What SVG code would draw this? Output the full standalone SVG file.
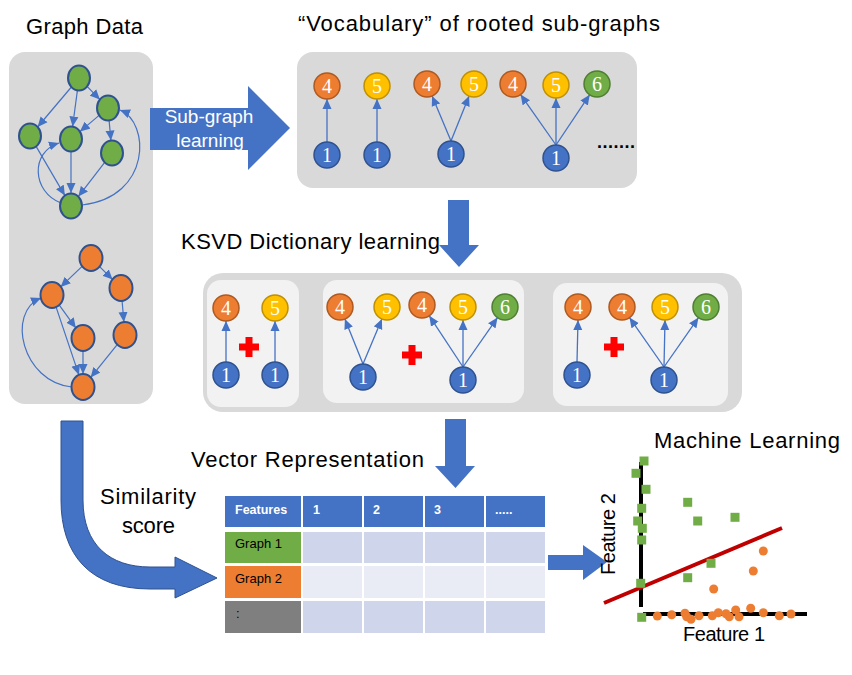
<svg xmlns="http://www.w3.org/2000/svg" width="852" height="675" viewBox="0 0 852 675">
<style>
.panel{fill:#d9d9d9}
.inner{fill:#f2f2f2}
.title{font-family:"Liberation Sans",Arial,sans-serif;font-size:22px;fill:#000}
.gn{stroke:#2f528f;stroke-width:2}
.g{fill:#70ad47}
.o{fill:#ed7d31}
.e{stroke:#4472c4;stroke-width:1.2;fill:none;marker-end:url(#ah)}
.ve{stroke:#4472c4;stroke-width:1.3;fill:none;marker-end:url(#ah)}
.c4{fill:#ed7d31;stroke:#ae5a21;stroke-width:1.5}
.c5{fill:#ffc000;stroke:#bf9000;stroke-width:1.5}
.c6{fill:#70ad47;stroke:#507e32;stroke-width:1.5}
.c1{fill:#4472c4;stroke:#2f528f;stroke-width:1.5}
.lb{font-family:"Liberation Serif","Times New Roman",serif;font-size:20px;fill:#fff;text-anchor:middle}
.big{fill:#4472c4}
.cross{fill:#ff0000}
.th{font-family:"Liberation Sans",Arial,sans-serif;font-size:12.5px;font-weight:bold;fill:#fff}
.td{font-family:"Liberation Sans",Arial,sans-serif;font-size:13px;fill:#000}
.sq{fill:#70ad47}
.pt{fill:#ed7d31}
.ax{stroke:#000;stroke-width:4}
.ft{font-family:"Liberation Sans",Arial,sans-serif;font-size:20px;fill:#000}
</style>
<defs>
<marker id="ah" markerUnits="userSpaceOnUse" markerWidth="10" markerHeight="10" viewBox="0 0 10 10" refX="10" refY="5" orient="auto">
<path d="M0,0.5 L10,5 L0,9.5 Z" fill="#4472c4"/>
</marker>
<path id="plus" d="M-3.5,-10 H3.5 V-3.5 H10 V3.5 H3.5 V10 H-3.5 V3.5 H-10 V-3.5 H-3.5 Z"/>
</defs>

<!-- Titles -->
<text class="title" x="26" y="34" textLength="117">Graph Data</text>
<text class="title" x="298" y="31" textLength="362">“Vocabulary”  of rooted sub-graphs</text>
<text class="title" x="181" y="249" textLength="259">KSVD Dictionary learning</text>
<text class="title" x="191" y="467" textLength="233">Vector Representation</text>
<text class="title" x="654" y="448" textLength="186">Machine Learning</text>
<text class="title" x="100" y="504" textLength="96">Similarity</text>
<text class="title" x="122" y="533" textLength="53">score</text>

<!-- Graph data panel -->
<rect class="panel" x="9" y="52" width="144" height="352" rx="16"/>

<!-- Vocabulary panel -->
<rect class="panel" x="297" y="52" width="340" height="136" rx="16"/>

<!-- KSVD panel -->
<rect class="panel" x="203" y="273" width="539" height="139" rx="20"/>
<rect class="inner" x="207" y="280" width="92" height="127" rx="14"/>
<rect class="inner" x="323" y="280" width="201" height="123" rx="14"/>
<rect class="inner" x="553" y="283" width="175" height="123" rx="14"/>

<!-- Big arrows -->
<g id="arrow-subgraph">
<polygon class="big" points="150,108 248,108 248,86 290,128 248,170 248,150 150,150"/>
<text x="209" y="123" font-family="Liberation Sans,Arial,sans-serif" font-size="19" fill="#fff" text-anchor="middle">Sub-graph</text>
<text x="210" y="147" font-family="Liberation Sans,Arial,sans-serif" font-size="19" fill="#fff" text-anchor="middle">learning</text>
</g>
<polygon id="arrow-ksvd" class="big" points="448,200 469,200 469,245 479,245 459,267 439,245 448,245"/>
<polygon id="arrow-vector" class="big" points="445,419 466,419 466,466 475,466 455.5,488 435,466 445,466"/>
<path id="arrow-similarity" class="big" stroke="#2f528f" stroke-width="1" d="M61,421 L83,421 L83,500 C83,545 110,567 150,567 L175,567 L175,557 L217,578 L175,598 L175,589 L150,589 C90,589 61,555 61,500 Z"/>
<polygon id="arrow-ml" class="big" points="548,555 583,555 583,545 607,562 583,580 583,570 548,570"/>

<!-- Connectors -->
<g id="connectors">
<!-- green graph -->
<line class="e" x1="71.4" y1="87" x2="37.6" y2="127"/>
<line class="e" x1="77.4" y1="90.3" x2="72.6" y2="126.5"/>
<line class="e" x1="87.1" y1="86.4" x2="99.9" y2="99.6"/>
<line class="e" x1="99.1" y1="115.4" x2="79.9" y2="131.6"/>
<line class="e" x1="109.1" y1="120.4" x2="110.9" y2="140.5"/>
<line class="e" x1="36.1" y1="146.4" x2="64.9" y2="195.6"/>
<line class="e" x1="71" y1="151.5" x2="71" y2="193"/>
<line class="e" x1="104.7" y1="162.4" x2="78.3" y2="196.6"/>
<path class="e" d="M61,203 C32,192 30,152 59,143"/>
<path class="e" d="M82,205 C152,197 150,122 120,110"/>
<!-- orange graph -->
<line class="e" x1="82.4" y1="266.1" x2="60.6" y2="286.9"/>
<line class="e" x1="99.4" y1="266.4" x2="112.6" y2="279.6"/>
<line class="e" x1="59.1" y1="304.9" x2="75.9" y2="328.1"/>
<line class="e" x1="122.1" y1="301" x2="123.9" y2="322"/>
<line class="e" x1="56.1" y1="307.1" x2="78.9" y2="374.9"/>
<line class="e" x1="83" y1="351" x2="83" y2="374"/>
<line class="e" x1="117.4" y1="344.4" x2="90.6" y2="377.6"/>
<path class="e" d="M72,387 C22,382 6,312 41,298"/>
<!-- vocabulary -->
<line class="ve" x1="327" y1="142" x2="327" y2="99"/>
<line class="ve" x1="377" y1="142" x2="377" y2="99"/>
<line class="ve" x1="451" y1="141" x2="432.1" y2="95.9"/>
<line class="ve" x1="451" y1="141" x2="469.1" y2="96"/>
<line class="ve" x1="556" y1="145" x2="520.6" y2="94.6"/>
<line class="ve" x1="556" y1="145" x2="556" y2="98"/>
<line class="ve" x1="556" y1="145" x2="589.7" y2="94.7"/>
<!-- KSVD -->
<line class="ve" x1="226" y1="362" x2="226" y2="321"/>
<line class="ve" x1="275" y1="362" x2="275" y2="321"/>
<line class="ve" x1="363" y1="364" x2="344.9" y2="319"/>
<line class="ve" x1="363" y1="364" x2="381.9" y2="319"/>
<line class="ve" x1="463" y1="367" x2="429.3" y2="315.8"/>
<line class="ve" x1="463" y1="367" x2="463" y2="320"/>
<line class="ve" x1="463" y1="367" x2="497.5" y2="317.6"/>
<line class="ve" x1="577" y1="362" x2="578" y2="320"/>
<line class="ve" x1="664" y1="367" x2="629.5" y2="317.6"/>
<line class="ve" x1="664" y1="367" x2="665" y2="320"/>
<line class="ve" x1="664" y1="367" x2="698.5" y2="317.6"/>
</g>

<!-- Green graph nodes -->
<g id="g1-a"><ellipse class="gn g" cx="79" cy="78" rx="11" ry="12.5"/></g>
<g id="g1-b"><ellipse class="gn g" cx="108" cy="108" rx="11" ry="12.5"/></g>
<g id="g1-c"><ellipse class="gn g" cx="30" cy="136" rx="11" ry="12.5"/></g>
<g id="g1-d"><ellipse class="gn g" cx="71" cy="139" rx="11" ry="12.5"/></g>
<g id="g1-e"><ellipse class="gn g" cx="112" cy="153" rx="11" ry="12.5"/></g>
<g id="g1-f"><ellipse class="gn g" cx="71" cy="206" rx="11" ry="12.5"/></g>
<!-- Orange graph nodes -->
<g id="g2-a"><ellipse class="gn o" cx="91" cy="258" rx="11.5" ry="13"/></g>
<g id="g2-b"><ellipse class="gn o" cx="52" cy="295" rx="11.5" ry="13"/></g>
<g id="g2-c"><ellipse class="gn o" cx="121" cy="288" rx="11.5" ry="13"/></g>
<g id="g2-d"><ellipse class="gn o" cx="83" cy="338" rx="11.5" ry="13"/></g>
<g id="g2-e"><ellipse class="gn o" cx="125" cy="335" rx="11.5" ry="13"/></g>
<g id="g2-f"><ellipse class="gn o" cx="83" cy="387" rx="11.5" ry="13"/></g>

<!-- Vocabulary nodes -->
<g id="v-4a"><circle class="c4" cx="327" cy="86" r="13"/><text class="lb" x="327" y="93">4</text></g>
<g id="v-5a"><circle class="c5" cx="377" cy="86" r="13"/><text class="lb" x="377" y="93">5</text></g>
<g id="v-1a"><circle class="c1" cx="327" cy="155" r="13"/><text class="lb" x="327" y="162">1</text></g>
<g id="v-1b"><circle class="c1" cx="377" cy="155" r="13"/><text class="lb" x="377" y="162">1</text></g>
<g id="v-4b"><circle class="c4" cx="427" cy="84" r="13"/><text class="lb" x="427" y="91">4</text></g>
<g id="v-5b"><circle class="c5" cx="474" cy="84" r="13"/><text class="lb" x="474" y="91">5</text></g>
<g id="v-1c"><circle class="c1" cx="451" cy="154" r="13"/><text class="lb" x="451" y="161">1</text></g>
<g id="v-4c"><circle class="c4" cx="513" cy="84" r="13"/><text class="lb" x="513" y="91">4</text></g>
<g id="v-5c"><circle class="c5" cx="556" cy="85" r="13"/><text class="lb" x="556" y="92">5</text></g>
<g id="v-6c"><circle class="c6" cx="597" cy="84" r="13"/><text class="lb" x="597" y="91">6</text></g>
<g id="v-1d"><circle class="c1" cx="556" cy="158" r="13"/><text class="lb" x="556" y="165">1</text></g>
<text x="597" y="148" font-family="Liberation Sans,Arial,sans-serif" font-size="18" font-weight="bold" textLength="38">.......</text>

<!-- KSVD nodes -->
<g id="k1-4"><circle class="c4" cx="226" cy="308" r="13"/><text class="lb" x="226" y="315">4</text></g>
<g id="k1-5"><circle class="c5" cx="275" cy="308" r="13"/><text class="lb" x="275" y="315">5</text></g>
<g id="k1-1a"><circle class="c1" cx="226" cy="375" r="13"/><text class="lb" x="226" y="382">1</text></g>
<g id="k1-1b"><circle class="c1" cx="275" cy="375" r="13"/><text class="lb" x="275" y="382">1</text></g>
<g id="k2-4a"><circle class="c4" cx="340" cy="307" r="13"/><text class="lb" x="340" y="314">4</text></g>
<g id="k2-5a"><circle class="c5" cx="387" cy="307" r="13"/><text class="lb" x="387" y="314">5</text></g>
<g id="k2-1a"><circle class="c1" cx="363" cy="377" r="13"/><text class="lb" x="363" y="384">1</text></g>
<g id="k2-4b"><circle class="c4" cx="422" cy="305" r="13"/><text class="lb" x="422" y="312">4</text></g>
<g id="k2-5b"><circle class="c5" cx="463" cy="307" r="13"/><text class="lb" x="463" y="314">5</text></g>
<g id="k2-6b"><circle class="c6" cx="505" cy="307" r="13"/><text class="lb" x="505" y="314">6</text></g>
<g id="k2-1b"><circle class="c1" cx="463" cy="380" r="13"/><text class="lb" x="463" y="387">1</text></g>
<g id="k3-4a"><circle class="c4" cx="578" cy="307" r="13"/><text class="lb" x="578" y="314">4</text></g>
<g id="k3-1a"><circle class="c1" cx="577" cy="375" r="13"/><text class="lb" x="577" y="382">1</text></g>
<g id="k3-4b"><circle class="c4" cx="622" cy="307" r="13"/><text class="lb" x="622" y="314">4</text></g>
<g id="k3-5b"><circle class="c5" cx="665" cy="307" r="13"/><text class="lb" x="665" y="314">5</text></g>
<g id="k3-6b"><circle class="c6" cx="706" cy="307" r="13"/><text class="lb" x="706" y="314">6</text></g>
<g id="k3-1b"><circle class="c1" cx="664" cy="380" r="13"/><text class="lb" x="664" y="387">1</text></g>
<use href="#plus" class="cross" x="249" y="347"/>
<use href="#plus" class="cross" x="412" y="355"/>
<use href="#plus" class="cross" x="614" y="347"/>

<!-- Table -->
<g id="table">
<rect x="225" y="496" width="76" height="31" fill="#4472c4"/>
<rect x="303" y="496" width="59" height="31" fill="#4472c4"/>
<rect x="364" y="496" width="59" height="31" fill="#4472c4"/>
<rect x="425" y="496" width="59" height="31" fill="#4472c4"/>
<rect x="486" y="496" width="59" height="31" fill="#4472c4"/>
<rect x="225" y="532" width="76" height="31" fill="#70ad47"/>
<rect x="303" y="532" width="59" height="31" fill="#cfd5ea"/>
<rect x="364" y="532" width="59" height="31" fill="#cfd5ea"/>
<rect x="425" y="532" width="59" height="31" fill="#cfd5ea"/>
<rect x="486" y="532" width="59" height="31" fill="#cfd5ea"/>
<rect x="225" y="566" width="76" height="32" fill="#ed7d31"/>
<rect x="303" y="566" width="59" height="32" fill="#e9ebf5"/>
<rect x="364" y="566" width="59" height="32" fill="#e9ebf5"/>
<rect x="425" y="566" width="59" height="32" fill="#e9ebf5"/>
<rect x="486" y="566" width="59" height="32" fill="#e9ebf5"/>
<rect x="225" y="601" width="76" height="32" fill="#7f7f7f"/>
<rect x="303" y="601" width="59" height="32" fill="#cfd5ea"/>
<rect x="364" y="601" width="59" height="32" fill="#cfd5ea"/>
<rect x="425" y="601" width="59" height="32" fill="#cfd5ea"/>
<rect x="486" y="601" width="59" height="32" fill="#cfd5ea"/>
<text class="th" x="235" y="514">Features</text>
<text class="th" x="313" y="514">1</text>
<text class="th" x="373" y="514">2</text>
<text class="th" x="434" y="514">3</text>
<text class="th" x="495" y="514">.....</text>
<text class="td" x="235" y="548">Graph 1</text>
<text class="td" x="235" y="583">Graph 2</text>
<text class="td" x="236" y="618">:</text>
</g>

<!-- Scatter plot -->
<g id="scatter">
<line class="ax" x1="641" y1="462" x2="641" y2="607"/>
<line class="ax" x1="643" y1="614" x2="807" y2="614"/>
<line x1="604" y1="603" x2="782" y2="528" stroke="#c00000" stroke-width="4"/>
<g class="sq">
<rect x="639.5" y="456.5" width="9" height="9"/>
<rect x="631.5" y="468.8" width="9" height="9"/>
<rect x="641.5" y="484.8" width="9" height="9"/>
<rect x="637.2" y="503.8" width="9" height="9"/>
<rect x="633.2" y="516.5" width="9" height="9"/>
<rect x="637.8" y="523.8" width="9" height="9"/>
<rect x="637.2" y="535.5" width="9" height="9"/>
<rect x="636.2" y="578.8" width="9" height="9"/>
<rect x="637.2" y="612.8" width="9" height="9"/>
<rect x="683.2" y="497.8" width="9" height="9"/>
<rect x="693.2" y="516.5" width="9" height="9"/>
<rect x="730.5" y="512.8" width="9" height="9"/>
<rect x="706.5" y="558.8" width="9" height="9"/>
<rect x="683.2" y="573.2" width="9" height="9"/>
</g>
<g class="pt">
<circle cx="763.3" cy="551" r="4.5"/>
<circle cx="753.3" cy="571" r="4.5"/>
<circle cx="713.7" cy="589" r="4.5"/>
<circle cx="657.3" cy="616" r="4.5"/>
<circle cx="671.7" cy="614.7" r="4.5"/>
<circle cx="685" cy="613.3" r="4.5"/>
<circle cx="686.7" cy="616.7" r="4.5"/>
<circle cx="691" cy="619.3" r="4.5"/>
<circle cx="699" cy="615.7" r="4.5"/>
<circle cx="712.3" cy="615.7" r="4.5"/>
<circle cx="718.3" cy="612.7" r="4.5"/>
<circle cx="726" cy="613.7" r="4.5"/>
<circle cx="729.3" cy="616.7" r="4.5"/>
<circle cx="735.7" cy="610" r="4.5"/>
<circle cx="739" cy="616.7" r="4.5"/>
<circle cx="750.7" cy="608.3" r="4.5"/>
<circle cx="763.3" cy="612.7" r="4.5"/>
<circle cx="779.3" cy="615.7" r="4.5"/>
<circle cx="791" cy="614" r="4.5"/>
</g>
<text class="ft" x="683" y="641" textLength="82">Feature 1</text>
<text class="ft" transform="translate(615,534) rotate(-90)" x="0" y="0" text-anchor="middle" textLength="82">Feature 2</text>
</g>
</svg>
